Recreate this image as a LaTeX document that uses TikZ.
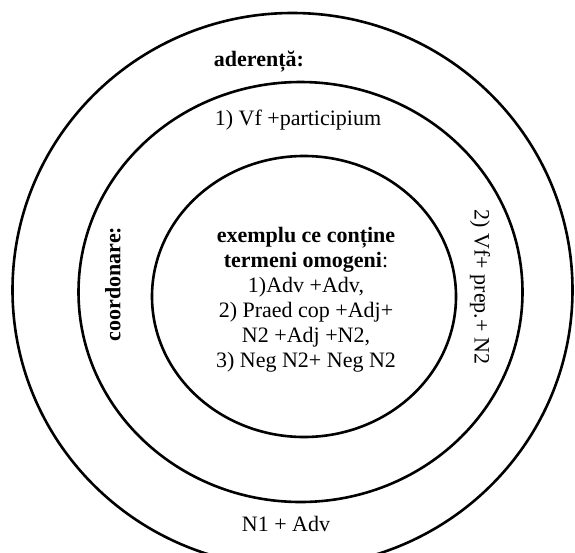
\documentclass[tikz,border=0pt]{standalone}
\usepackage{fontspec}
\setmainfont{Liberation Serif}
\usepackage{tikz}
\usetikzlibrary{positioning}
\tikzset{ring/.style={line width=2.6pt},
  lbl/.style={font=\fontsize{22}{25}\selectfont,inner sep=0pt,align=center}}

\begin{document}
\begin{tikzpicture}[x=1pt,y=-1pt]
\useasboundingbox (0,0) rectangle (575,552);
\draw[ring] (292.5,290) ellipse (280 and 277);
\draw[ring] (300.5,292) ellipse (222 and 210);
\draw[ring] (304,296.5) ellipse (152 and 140.5);
\node[lbl,font=\fontsize{22}{25}\selectfont\bfseries] (ader) at (259,62) {aderență:};
\node[lbl] (vfpart) at (298,120) {1) Vf +participium};
\node[lbl,font=\fontsize{22}{25}\selectfont\bfseries,rotate=90] (coord) at (113,284) {coordonare:};
\node[lbl,rotate=-90] (vfprep) at (480,287) {2) Vf+ prep.+ N2};
\node[lbl] (omog) at (306,300) {\textbf{exemplu ce conține}\\\textbf{termeni omogeni}:\\1)Adv +Adv,\\2) Praed cop +Adj+\\N2 +Adj +N2,\\3) Neg N2+ Neg N2};
\node[lbl] (nadv) at (286,524) {N1 + Adv};
\end{tikzpicture}
\end{document}
